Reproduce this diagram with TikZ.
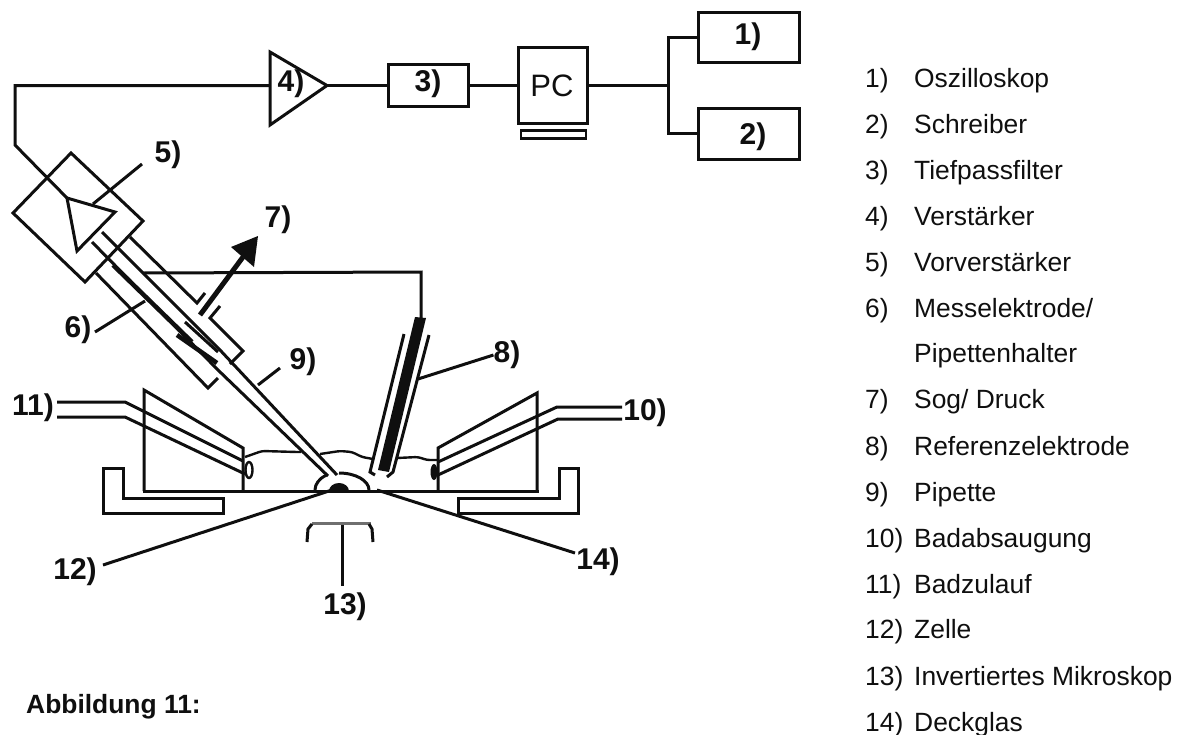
\documentclass[tikz,border=0pt]{standalone}
\usepackage{fontspec}
\setmainfont{Liberation Sans}
\usetikzlibrary{arrows.meta}
\definecolor{ink}{gray}{0.06}
\tikzset{
 x=1pt,y=-1pt,
 ln/.style={line width=3pt,draw=ink,line join=miter},
 tn/.style={line width=2.4pt,draw=ink,line join=round,rounded corners=3pt},
 boxn/.style={draw=ink,line width=3pt,inner sep=0pt,minimum width=#1},
 lab/.style={font=\fontsize{30}{30}\selectfont\bfseries,inner sep=0pt,text=ink},
 lst/.style={font=\fontsize{26.4}{28}\selectfont,inner sep=0pt,anchor=base west,text=ink},
}
\begin{document}
\begin{tikzpicture}
\useasboundingbox (0,0) rectangle (1181,734);
% --- signal chain
\node[boxn=80pt,minimum height=42pt] (f) at (428,85.5) {};
\node[lab] at (428,84) {3)};
\node[boxn=69pt,minimum height=76pt] (pc) at (552.5,85.5) {};
\node[font=\fontsize{31}{31}\selectfont,inner sep=0pt,text=ink] at (552,86) {PC};
\node[boxn=65pt,minimum height=8pt,line width=2.4pt] (kb) at (553.5,134.5) {};
\node[boxn=101pt,minimum height=50pt] (o) at (748.5,37) {};
\node[lab] at (748,37) {1)};
\node[boxn=101pt,minimum height=51pt] (s) at (748.5,133.5) {};
\node[lab] at (753,137) {2)};
\coordinate (a1) at (270,52);\coordinate (a2) at (270,125);\coordinate (a3) at (327,85.5);
\draw[ln] (a1)--(a3)--(a2)--cycle;
\node[lab] at (291,84) {4)};
\coordinate (j) at (668,85.5);
\draw[ln] (a3)--(f.west);
\draw[ln] (f.east)--(pc.west);
\draw[ln] (pc.east)--(j);
\draw[ln] (o.west)-|(j)|-(s.west);
% --- wire to preamplifier
\coordinate (t1) at (67,198);\coordinate (t2) at (115,212);\coordinate (t3) at (77,251);
\coordinate (w1) at (270,85.5);\coordinate (w2) at (15,85.5);\coordinate (w3) at (15,145);
\draw[ln] (w1)--(w2)--(w3)--(t1);
% preamp
\coordinate (p1) at (71,153);\coordinate (p2) at (143,221);\coordinate (p3) at (85,282);\coordinate (p4) at (13,213);
\draw[ln] (p1)--(p2)--(p3)--(p4)--cycle;
\draw[ln] (t1)--(t2)--(t3)--cycle;
\node[lab] (n5) at (168,155) {5)};
\coordinate (l5a) at (93,204);\coordinate (l5b) at (142,164);
\draw[ln] (l5a)--(l5b);
% holder
\draw[ln] (96,273)--(208,388)--(218,378);
\draw[ln] (130,237)--(197,303)--(205,293);
\draw[ln] (220,306)--(210,318)--(243,351)--(230,364);
% connection wire to reference electrode
\coordinate (w5) at (102,232);\coordinate (w6) at (143,273);\coordinate (w7) at (421,272);\coordinate (w8) at (421,318);
\draw[ln] (w6)--(w7)--(w8);
% pipette
\draw[ln] (92,242)--(218,370)--(328,476);
\draw[ln] (w5)--(220,350)--(337,475);
% inner electrode
\draw[line width=4.5pt,draw=ink] (113,265)--(192,342);
\draw[ln] (185,322)--(218,352);
\draw[line width=4.5pt,draw=ink] (177,335)--(217,363);
% arrow 7)
\node[lab] (n7) at (278,220) {7)};
\coordinate (ar0) at (200,315);\coordinate (ar1) at (243,257);
\draw[line width=5pt,draw=ink] (ar0)--(ar1);
\fill[ink] (258,236)--(231,247)--(254,267)--cycle;
% 6)
\node[lab] (n6) at (78,330) {6)};
\draw[ln] (95,332)--(145,301);
% 9)
\node[lab] (n9) at (303,362) {9)};
\draw[ln] (258,385)--(280,368);
% --- chamber
\draw[ln] (144,491)--(144,390)--(243,448)--(243,491);
\draw[ln] (537,491)--(537,393)--(438,448)--(438,491);
\draw[ln] (142.5,491)--(538.5,491);
% tubes
\draw[ln] (57,402)--(125,402)--(243,461);
\draw[ln] (57,417)--(125,417)--(245,474);
\draw[ln] (622,407)--(557,407)--(438,462);
\draw[ln] (622,419)--(558,419)--(438,475);
\draw[line width=2.4pt,draw=ink] (249,470) ellipse[x radius=3.5,y radius=8];
\fill[ink] (434,472) ellipse[x radius=3.5,y radius=8];
% brackets
\draw[ln] (103,468)--(103,513)--(223,513)--(223,498)--(123,498)--(123,468)--cycle;
\draw[ln] (578,468)--(578,513)--(458,513)--(458,498)--(559,498)--(559,468)--cycle;
% bath surface
\draw[tn] (245,457)--(262,451)--(297,452)--(301,452);
\draw[tn] (320,454)--(340,451)--(352,452)--(362,457)--(373,459);
\draw[tn] (397,458)--(418,457)--(427,460)--(437,460);
% dome and cell
\draw[ln] (315,490) arc[start angle=180,end angle=235,x radius=26,y radius=18];
\draw[ln] (339,473) arc[start angle=-90,end angle=0,x radius=30,y radius=17];
\fill[ink] (329,491) arc[start angle=180,end angle=360,x radius=10,y radius=8]--cycle;
% reference electrode
\fill[ink] (415,317)--(426,318)--(389,472)--(378,470)--cycle;
\draw[ln] (404,334)--(370,472)--(375,475);
\draw[ln] (429,335)--(393,472)--(387,477);
\node[lab] (n8) at (507,355) {8)};
\draw[ln] (418,379)--(n8.west);
% 10, 11
\node[lab] at (645,413) {10)};
\node[lab] at (33,408) {11)};
% 12
\node[lab] (n12) at (75,572) {12)};
\draw[ln] (103,565)--(332,490);
% 13
\node[lab] (n13) at (345,607) {13)};
\draw[ln] (342,523)--(342,586);
\draw[line width=3pt,draw=ink!60] (312,523)--(371,523);
\draw[ln] (307,542)--(308,529)--(312,524);
\draw[ln] (373,542)--(372,529)--(369,524);
% 14
\node[lab] (n14) at (598,562) {14)};
\draw[ln] (377,490)--(575,553);
% --- legend
\foreach \n/\t/\y in {1)/Oszilloskop/87,2)/Schreiber/133,3)/Tiefpassfilter/179,4)/Verstärker/225,5)/Vorverstärker/271,6)/Messelektrode\slash/317,7)/Sog\slash\ Druck/408,8)/Referenzelektrode/455,9)/Pipette/501,10)/Badabsaugung/547,11)/Badzulauf/593,12)/Zelle/638,13)/Invertiertes Mikroskop/685,14)/Deckglas/731}
 {\node[lst] at (865,\y) {\n}; \node[lst] at (914,\y) {\t};}
\node[lst] at (914,362) {Pipettenhalter};
\node[lst,font=\fontsize{26.4}{28}\selectfont\bfseries] at (26,713) {Abbildung 11:};
\end{tikzpicture}
\end{document}
